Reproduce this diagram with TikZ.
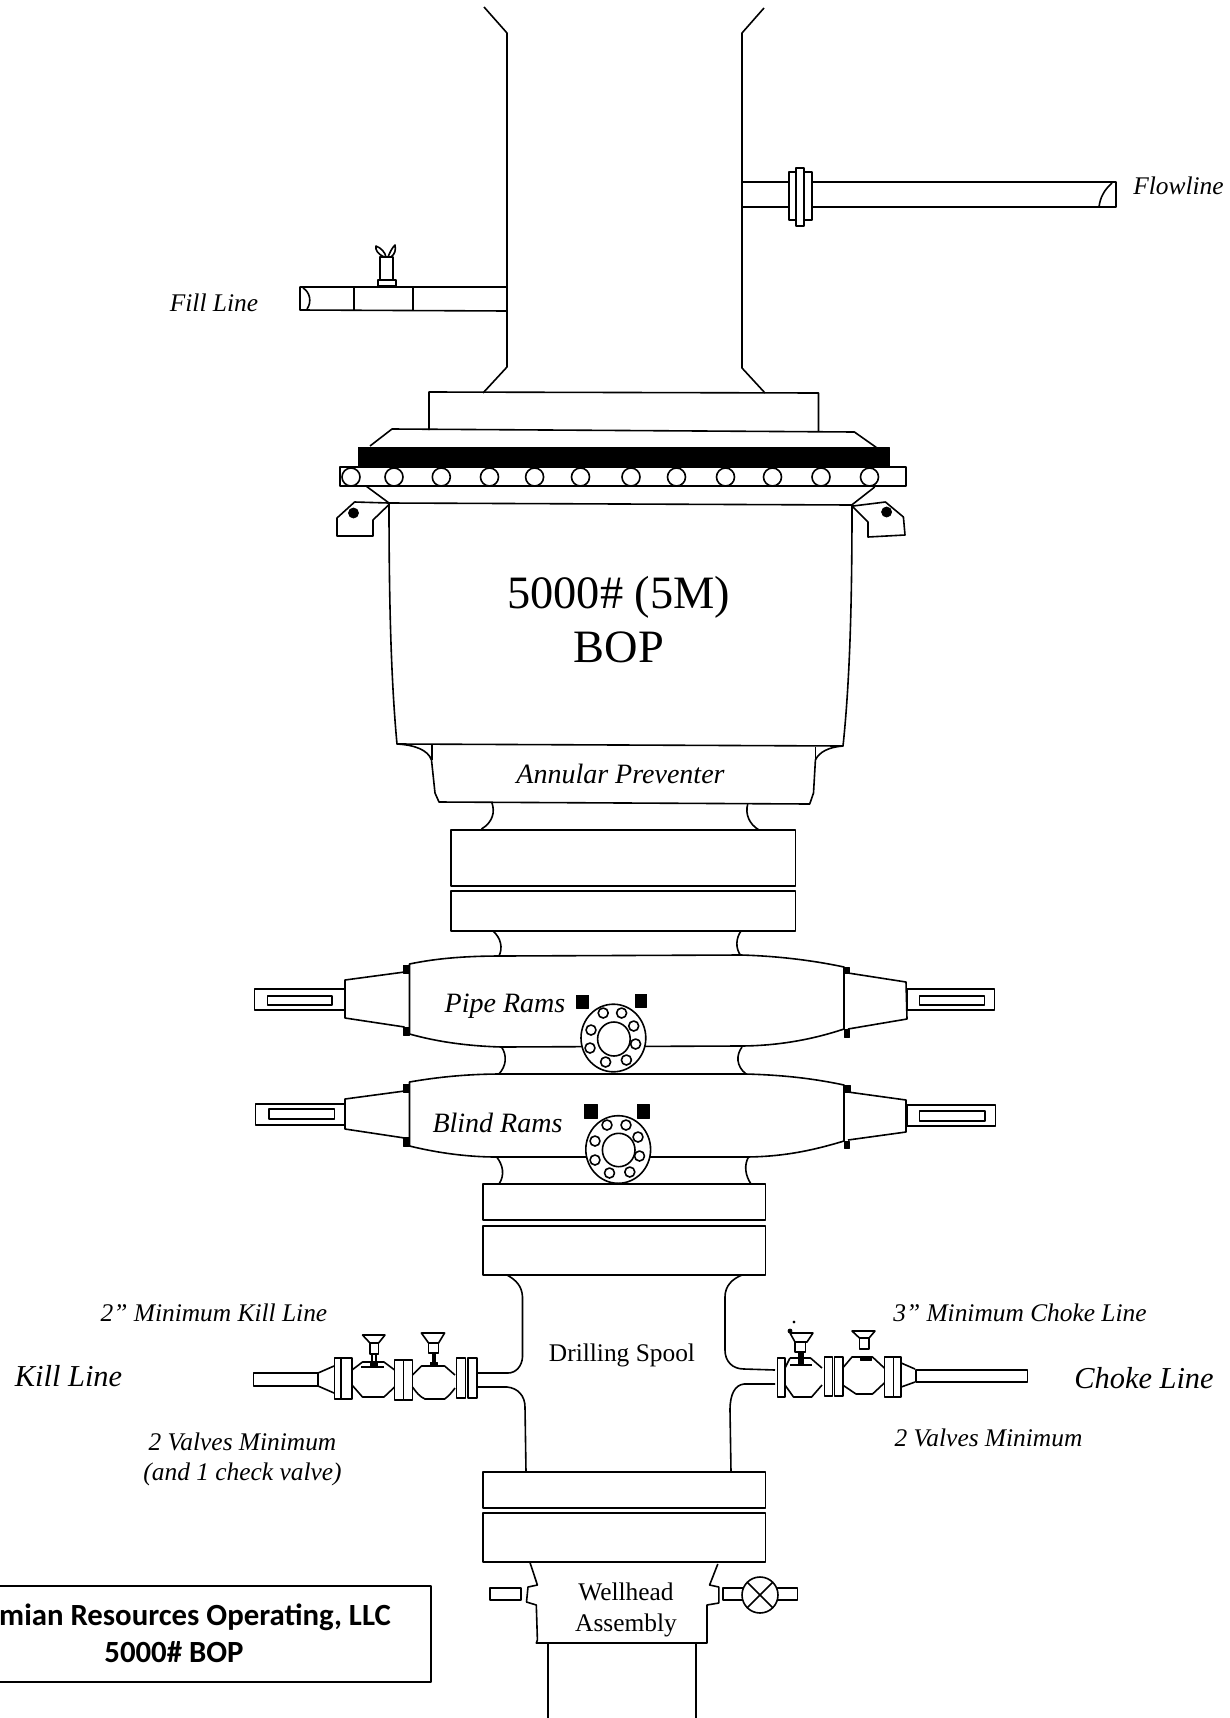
\documentclass[tikz,border=0pt]{standalone}
\usepackage{fontspec}
\setmainfont{Liberation Serif}
\newfontfamily\titlefont{Carlito}
\def \globalscale {1.000000}
\tikzset{
  outline/.style={draw=black,line join=round,line width=0.8pt},
  plate/.style={draw=black,fill=white,line join=round,line width=0.8pt},
  solidblack/.style={draw=black,fill=black,line join=round,line width=0.4pt},
  italiclabel/.style={font=\itshape\fontsize{12.7}{15}\selectfont,align=center},
  ramlabel/.style={font=\itshape\fontsize{14}{17}\selectfont},
  linelabel/.style={font=\itshape\fontsize{15.2}{18}\selectfont},
  uprightlabel/.style={font=\fontsize{12.7}{15.3}\selectfont,align=center},
  titlelabel/.style={font=\titlefont\bfseries\fontsize{15.4}{18}\selectfont}
}
\begin{document}
\begin{tikzpicture}[y=0.50pt, x=0.50pt, yscale=-\globalscale, xscale=\globalscale, inner sep=0pt, outer sep=0pt]
\useasboundingbox (0,0) rectangle (1230,1718);

% bell nipple
\path[outline] (484,7) -- (507,33) -- (507,367) -- (483,393);

\path[outline] (764,8) -- (742,33) -- (742,368) -- (765,393);

\path[outline] (429,430) -- (429,392) -- (818.5,393) -- (818.5,431);

% flowline
\path[outline] (742,182) -- (1116,182) -- (1116,207) -- (742,207);

\path[outline] (1112,183) .. controls (1104,190) and (1100,198) .. (1099,207);

\path[plate] (789,172) rectangle (812,220);

\path[plate] (796,168) rectangle (804,226);

% fill line
\path[outline] (507,287) -- (300,287) -- (300,310) -- (507,311);

\path[outline] (354,287) -- (354,310);

\path[outline] (413,287) -- (413,310);

\path[outline] (303,288) .. controls (310,292) and (312,302) .. (307,309);

\path[outline] (378,286) -- (378,280) -- (396,280) -- (396,286) -- cycle;

\path[outline] (380,280) -- (380,257) -- (393,257) -- (393,280);

\path[outline] (384,257) .. controls (378,254) and (375,250) .. (376,246) .. controls (381,248) and (385,252) .. (386,257);

\path[outline] (388,257) .. controls (390,252) and (392,248) .. (395,245) .. controls (396,250) and (395,254) .. (391,257);

% annular preventer head
\path[outline] (370,446) -- (392,429) -- (854.4,432) -- (878.5,449);

\path[solidblack] (358.5,447) rectangle (889,468);

\path[plate] (340,467) rectangle (906,486);

\path[plate] (351,477) circle[radius=9];

\path[plate] (394,477) circle[radius=9];

\path[plate] (441.3,477) circle[radius=9];

\path[plate] (489.5,477) circle[radius=9];

\path[plate] (534.6,477) circle[radius=9];

\path[plate] (580.5,477) circle[radius=9];

\path[plate] (631,477) circle[radius=9];

\path[plate] (676.5,477) circle[radius=9];

\path[plate] (725.5,477) circle[radius=9];

\path[plate] (772.5,477) circle[radius=9];

\path[plate] (821,477) circle[radius=9];

\path[plate] (869.5,477) circle[radius=9];

\path[outline] (366,486) -- (389,503);

\path[outline] (874.7,487) -- (851.7,505);

\path[outline] (389,503) -- (852,505) .. controls (852,600) and (850,680) .. (843,746) -- (397,744) .. controls (391,680) and (389,600) .. (389,503) -- cycle;

% lifting ears
\path[outline] (388.5,503) -- (354.6,502) -- (337,518) -- (337,536) -- (373,536) -- (373,520) -- (388.5,505);

\path[solidblack] (353.5,513) circle[radius=5];

\path[outline] (853,506) -- (885.4,502) -- (903.4,517) -- (905,535) -- (868,537) -- (868,522) -- (853,507);

\path[solidblack] (886.6,512) circle[radius=5];

% lower annular
\path[outline] (397,744) .. controls (415,745) and (428,750) .. (431.5,760) -- (435,793) -- (439,802) -- (809.7,804) -- (813.5,793) -- (815.4,760) .. controls (819,752) and (829,747) .. (843,746);

\path[outline] (432,745) -- (432,760);

\path[outline] (815.4,747) -- (815.4,760);

\path[outline] (492,803) .. controls (495,812) and (493,822) .. (481.5,829);

\path[outline] (747.7,804) .. controls (745,814) and (749,824) .. (759,830);

% ram housings
\path[outline] (451,830) rectangle (795.5,886);

\path[outline] (451,891) rectangle (795.5,931);

\path[outline] (493,931) .. controls (501,938) and (503,948) .. (499,956);

\path[outline] (741,931) .. controls (736,938) and (735,948) .. (741,956);

% pipe rams
\path[plate] (254.5,989) rectangle (345,1010);

\path[plate] (267.6,996) rectangle (332,1005);

\path[plate] (907,989) rectangle (994.5,1010);

\path[plate] (919.4,996) rectangle (984.3,1005);

\path[plate] (404.6,972) -- (345,980) -- (345,1018) -- (404.6,1027);

\path[plate] (848,973) -- (906,982) -- (907,1019) -- (848,1029);

\path[plate] (409.5,964) .. controls (438,958) and (468,956) .. (501.5,956) -- (741,955) .. controls (776,956) and (811,960) .. (844,967) -- (844,1029) .. controls (811,1040) and (776,1046) .. (739,1046) -- (501.5,1047) .. controls (468,1046) and (438,1042) .. (409.5,1034) -- cycle;

\path[solidblack] (403,965) rectangle (409.5,973);

\path[solidblack] (403,1027) rectangle (409.5,1035);

\path[solidblack] (844,967) rectangle (849,973);

\path[solidblack] (844,1029) rectangle (849,1037);

\path[solidblack] (576.6,995) rectangle (588.7,1008);

\path[solidblack] (635.6,994) rectangle (646.8,1007);

\path[plate] (613.4,1038) ellipse[x radius=32.4,y radius=33.8];

\path[outline] (613.9,1039) ellipse[x radius=16.3,y radius=17];

\path[outline] (603.2,1013) circle[radius=5];

\path[outline] (621.6,1013) circle[radius=5];

\path[outline] (633.7,1026) circle[radius=5];

\path[outline] (635.6,1044) circle[radius=5];

\path[outline] (626.4,1060) circle[radius=5];

\path[outline] (605.6,1062) circle[radius=5];

\path[outline] (590,1048) circle[radius=5];

\path[outline] (591,1030) circle[radius=5];

\path[outline] (501.5,1047) .. controls (507,1055) and (507,1066) .. (498,1075);

\path[outline] (742,1047) .. controls (736,1055) and (736,1066) .. (746,1074);

% blind rams
\path[plate] (255.5,1104) rectangle (345,1125);

\path[plate] (269,1109) rectangle (334.4,1119);

\path[plate] (907,1105) rectangle (995.4,1126);

\path[plate] (919.4,1111) rectangle (984.8,1121);

\path[plate] (404.6,1091) -- (345,1099) -- (345,1129) -- (404.6,1138);

\path[plate] (848,1092) -- (906,1100) -- (906,1132) -- (848,1140);

\path[plate] (409.5,1082) .. controls (438,1077) and (468,1074) .. (501.5,1074) -- (746,1074) .. controls (781,1075) and (811,1078) .. (844,1085) -- (844,1141) .. controls (811,1151) and (781,1157) .. (743.6,1157) -- (496.7,1157) .. controls (468,1157) and (438,1153) .. (409.5,1146) -- cycle;

\path[solidblack] (403,1084) rectangle (409.5,1092);

\path[solidblack] (403,1137) rectangle (409.5,1146);

\path[solidblack] (844,1085) rectangle (850,1092);

\path[solidblack] (844,1141) rectangle (849,1148);

\path[solidblack] (584.8,1104) rectangle (597.4,1118);

\path[solidblack] (637,1104) rectangle (649,1118);

\path[plate] (618.2,1149.5) ellipse[x radius=32.4,y radius=33.8];

\path[outline] (618.7,1150) ellipse[x radius=16.3,y radius=16.7];

\path[outline] (607,1125) circle[radius=5];

\path[outline] (626,1125) circle[radius=5];

\path[outline] (638,1137) circle[radius=5];

\path[outline] (639.5,1156) circle[radius=5];

\path[outline] (629.8,1172) circle[radius=5];

\path[outline] (609.5,1173) circle[radius=5];

\path[outline] (595,1160) circle[radius=5];

\path[outline] (595,1141) circle[radius=5];

\path[outline] (496.7,1157) .. controls (503,1165) and (505,1175) .. (499,1184);

\path[outline] (748.5,1157) .. controls (744,1165) and (745,1175) .. (751,1184);

% drilling spool
\path[outline] (483,1184) rectangle (765.5,1220);

\path[outline] (483,1226) rectangle (765.5,1275);

\path[outline] (507,1275) .. controls (516,1280) and (522,1286) .. (522.5,1297) -- (522.5,1357) .. controls (522,1366) and (516,1373) .. (508,1373) -- (477,1373);

\path[outline] (477,1387) -- (507,1387) .. controls (518,1388) and (525,1396) .. (525,1407) -- (526,1472);

\path[outline] (742,1275) .. controls (732,1279) and (725,1286) .. (725,1297) -- (725,1350) .. controls (725,1361) and (732,1369) .. (744,1369) -- (775,1370);

\path[outline] (775,1384) -- (744,1384) .. controls (735,1385) and (730,1394) .. (730,1410) -- (731,1472);

% kill line valves
\path[outline] (253.6,1373) rectangle (318,1386);

\path[outline] (318,1373) -- (334,1366);

\path[outline] (318,1386) -- (334,1393);

\path[plate] (334.6,1358) rectangle (341,1399);

\path[plate] (341,1358) rectangle (352,1399);

\path[outline] (352,1370) -- (362.5,1362) -- (384,1362) -- (394.6,1370);

\path[outline] (352,1385) -- (362.5,1397) -- (384,1397) -- (394.6,1387);

\path[outline] (361,1367) -- (384,1367);

\path[solidblack] (370,1362) rectangle (377,1367);

\path[outline] (362.5,1335) -- (385,1335) -- (378.6,1343) -- (370,1343) -- cycle;

\path[outline] (370,1343) rectangle (378.6,1354);

\path[outline] (372,1354) rectangle (376,1362);

\path[plate] (394.6,1360) rectangle (403.6,1400);

\path[plate] (403.6,1360) rectangle (412.5,1400);

\path[outline] (412.5,1375) -- (421.4,1366) -- (444.6,1366) -- (455,1375);

\path[outline] (412.5,1387) .. controls (416,1392) and (420,1397) .. (425,1399) -- (444.6,1399) .. controls (449,1396) and (452,1392) .. (455,1388);

\path[outline] (421.4,1333) -- (444.6,1333) -- (438.6,1343) -- (428.6,1343) -- cycle;

\path[outline] (428.6,1343) rectangle (438.6,1353);

\path[solidblack] (432,1353) rectangle (435,1362);

\path[solidblack] (430,1362) rectangle (437,1366);

\path[plate] (456.4,1358) rectangle (465.4,1398);

\path[plate] (468,1358) rectangle (477,1398);

% choke line valves
\path[plate] (777.5,1358) rectangle (785,1397);

\path[outline] (790,1358) -- (810.5,1358) -- (822,1368);

\path[outline] (785,1368) -- (790,1358);

\path[outline] (785,1385) -- (793.5,1397) -- (811.6,1397) -- (822,1385);

\path[outline] (790,1365) -- (812,1365);

\path[outline] (790,1333) -- (813,1333) -- (807,1342) -- (795,1342) -- cycle;

\path[outline] (795,1342) rectangle (805.5,1352);

\path[solidblack] (798.6,1352) rectangle (803,1365);

\path[solidblack] (790,1331) circle[radius=2];

\path[solidblack] (794,1322) circle[radius=1];

\path[plate] (824.4,1357) rectangle (832.6,1396);

\path[plate] (834.6,1357) rectangle (842.7,1396);

\path[outline] (842.7,1368) -- (852,1357) -- (872.5,1357) -- (884.3,1368);

\path[outline] (842.7,1385) -- (856,1394) -- (872.5,1394) -- (884.3,1383);

\path[outline] (852,1331) -- (875,1331) -- (869,1338) -- (859.5,1338) -- cycle;

\path[outline] (859.5,1338) rectangle (869,1349);

\path[solidblack] (860.6,1356) rectangle (871,1360);

\path[plate] (884.3,1357) rectangle (893.4,1397);

\path[plate] (893.4,1357) rectangle (901.2,1397);

\path[outline] (901.2,1363) -- (915,1369);

\path[outline] (901.2,1387) -- (915,1382);

\path[outline] (915.8,1370) rectangle (1027.4,1382);

% wellhead
\path[outline] (483,1472) rectangle (765.5,1508);

\path[outline] (483,1513) rectangle (765.5,1562);

\path[outline] (529.8,1562) -- (537.4,1585) -- (528,1587) -- (526.5,1602) -- (536.3,1605) -- (537.4,1640) -- (536.3,1643) -- (707,1643) -- (707,1605) -- (718.8,1603) -- (718.8,1587) -- (709.6,1585) -- (717.8,1564);

\path[outline] (490,1588) rectangle (521,1600);

\path[outline] (723,1588) rectangle (743,1600);

\path[outline] (777.4,1588) rectangle (797.4,1600);

\path[plate] (760,1595) circle[radius=18];

\path[outline] (747.3,1582.3) -- (772.7,1607.7);

\path[outline] (772.7,1582.3) -- (747.3,1607.7);

\path[outline] (548.2,1643) -- (548.2,1718);

\path[outline] (696,1643) -- (696,1718);

% title box
\path[outline] (0,1586) -- (430.7,1586) -- (430.7,1682) -- (0,1682);

% labels
\path (214.0,303.0) node[italiclabel] (fillline) {Fill Line};

\path (1178.5,186.0) node[italiclabel] (flowline) {Flowline};

\path (618.8,620.0) node[align=center,font=\fontsize{23.2}{27}\selectfont] (boplabel) {5000\# (5M)\\BOP};

\path (620.5,774.0) node[ramlabel] (annular) {Annular Preventer};

\path (505.0,1006.0) node[ramlabel] (piperams) {Pipe Rams};

\path (497.5,1123.0) node[ramlabel] (blindrams) {Blind Rams};

\path (214.0,1313.0) node[italiclabel] (killmin) {2” Minimum Kill Line};

\path (68.5,1376.0) node[linelabel] (killline) {Kill Line};

\path (242.5,1459.0) node[italiclabel] (killvalves) {2 Valves Minimum\\(and 1 check valve)};

\path (622.0,1355.0) node[uprightlabel] (spool) {Drilling Spool};

\path (1020.0,1313.0) node[italiclabel] (chokemin) {3” Minimum Choke Line};

\path (1144.0,1378.0) node[linelabel] (chokeline) {Choke Line};

\path (988.5,1438.0) node[italiclabel] (chokevalves) {2 Valves Minimum};

\path (626.0,1610.0) node[uprightlabel] (wellhead) {Wellhead\\Assembly};

\path (391.0,1617.0) node[titlelabel,anchor=east] (operator) {mian Resources Operating, LLC};

\path (174.0,1652.0) node[titlelabel] (bopname) {5000\# BOP};

\end{tikzpicture}
\end{document}
